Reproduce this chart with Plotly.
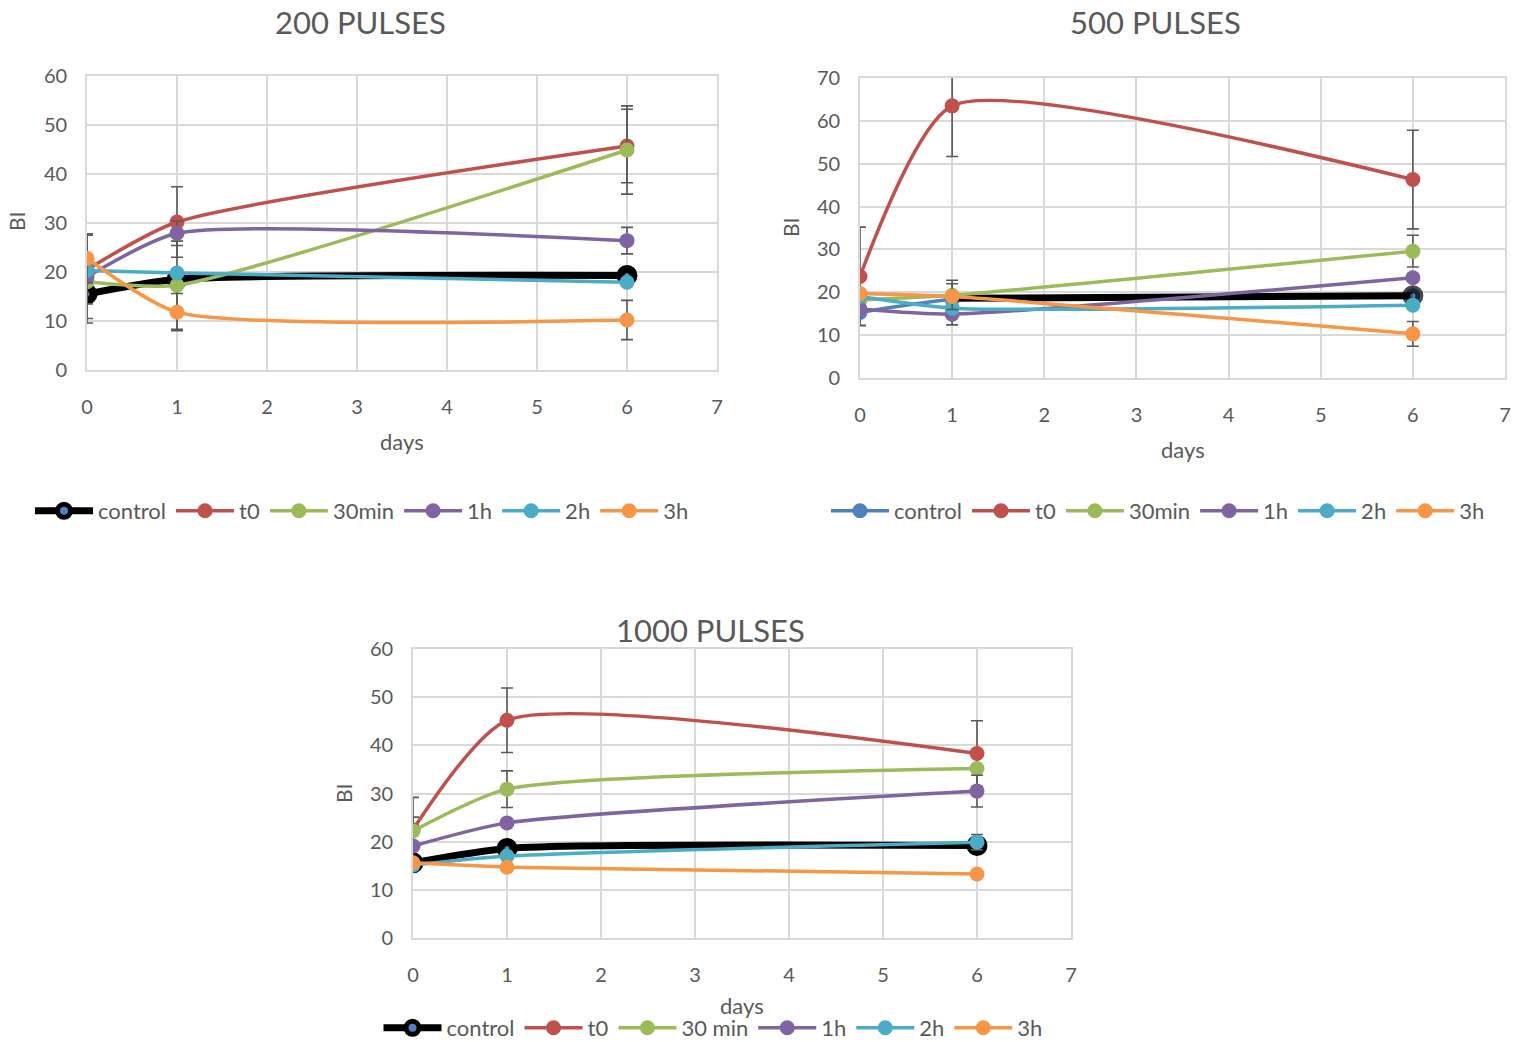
import plotly.graph_objects as go

days = [0, 1, 6]
series_names = ["control", "t0", "30min", "1h", "2h", "3h"]
series_names_1000 = ["control", "t0", "30 min", "1h", "2h", "3h"]
colors = ["#000000", "#C0504D", "#9BBB59", "#8064A2", "#4BACC6", "#F79646"]
control_blue = "#4F81BD"

# 200 pulses
p200_control = [15.5, 18.5, 19.3]
p200_t0 = [20.5, 30.2, 45.7]
p200_30min = [18.0, 17.3, 44.9]
p200_1h = [19.0, 27.9, 26.4]
p200_2h = [20.3, 19.8, 17.9]
p200_3h = [22.8, 11.8, 10.2]
p200_control_err = [5.9, 0, 0]
p200_t0_err = [7.0, 7.2, 7.5]
p200_30min_err = [0, 9.0, 9.0]
p200_1h_err = [8.5, 2.5, 2.7]
p200_2h_err = [0, 0, 0]
p200_3h_err = [5.0, 3.8, 4.0]

# 500 pulses
p500_control = [15.3, 18.3, 19.2]
p500_t0 = [23.7, 63.5, 46.3]
p500_30min = [18.2, 19.3, 29.6]
p500_1h = [16.1, 14.9, 23.4]
p500_2h = [19.0, 16.3, 17.0]
p500_3h = [19.7, 19.0, 10.3]
p500_overlay = [18.6, 19.2]
p500_control_err = [3.0, 0, 0]
p500_t0_err = [11.5, 11.8, 11.5]
p500_30min_err = [0, 3.5, 3.7]
p500_1h_err = [0, 2.5, 0]
p500_2h_err = [0, 0, 0]
p500_3h_err = [0, 3.0, 2.9]

# 1000 pulses
p1000_control = [15.6, 18.6, 19.2]
p1000_t0 = [22.5, 45.2, 38.3]
p1000_30min = [22.2, 30.9, 35.2]
p1000_1h = [19.1, 23.9, 30.5]
p1000_2h = [15.1, 17.0, 19.9]
p1000_3h = [15.6, 14.7, 13.3]
p1000_control_err = [0, 0, 0]
p1000_t0_err = [2.6, 6.7, 6.8]
p1000_30min_err = [7.0, 3.8, 0]
p1000_1h_err = [0, 0, 3.3]
p1000_2h_err = [0, 0, 1.6]
p1000_3h_err = [0, 0, 0]

W, H = 1525, 1042
FONT = "Lato"
GRAY = "#595959"
GRID = "#D9D9D9"
SMOOTH = 0.6

def px_x(v):
    return v / W

def px_y(v):
    return 1 - v / H

fig = go.Figure()

charts = [
    dict(ax="", leg="legend", names=series_names,
         vals=[p200_control, p200_t0, p200_30min, p200_1h, p200_2h, p200_3h],
         errs=[p200_control_err, p200_t0_err, p200_30min_err, p200_1h_err, p200_2h_err, p200_3h_err],
         black=True),
    dict(ax="2", leg="legend2", names=series_names,
         vals=[p500_control, p500_t0, p500_30min, p500_1h, p500_2h, p500_3h],
         errs=[p500_control_err, p500_t0_err, p500_30min_err, p500_1h_err, p500_2h_err, p500_3h_err],
         black=False),
    dict(ax="3", leg="legend3", names=series_names_1000,
         vals=[p1000_control, p1000_t0, p1000_30min, p1000_1h, p1000_2h, p1000_3h],
         errs=[p1000_control_err, p1000_t0_err, p1000_30min_err, p1000_1h_err, p1000_2h_err, p1000_3h_err],
         black=True),
]

for ci, ch in enumerate(charts):
    xa = "x" + ch["ax"]
    ya = "y" + ch["ax"]
    for i, (name, v, e) in enumerate(zip(ch["names"], ch["vals"], ch["errs"])):
        if i == 0:
            if ch["black"]:
                line = dict(color="#000000", width=7, shape="spline", smoothing=SMOOTH)
                marker = dict(size=13, color=control_blue, line=dict(color="#000000", width=8))
            else:
                line = dict(color=control_blue, width=3.5, shape="spline", smoothing=SMOOTH)
                marker = dict(size=15, color=control_blue)
        else:
            line = dict(color=colors[i], width=3.5, shape="spline", smoothing=SMOOTH)
            marker = dict(size=15, color=colors[i])
        fig.add_trace(go.Scatter(
            x=days, y=v, name=name, mode="lines+markers",
            line=line, marker=marker, xaxis=xa, yaxis=ya, legend=ch["leg"],
            error_y=dict(type="data", array=e, visible=True, color=GRAY, thickness=1.6, width=6),
        ))
        if ci == 1 and i == 0:
            fig.add_trace(go.Scatter(
                x=days[1:], y=p500_overlay, mode="lines+markers", showlegend=False,
                line=dict(color="#000000", width=7, shape="spline", smoothing=SMOOTH),
                marker=dict(size=[0, 13], color=control_blue, line=dict(color="#000000", width=[0, 8])),
                xaxis=xa, yaxis=ya, legend=ch["leg"],
            ))

common_x = dict(range=[0, 7], dtick=1, tick0=0, showgrid=True, gridcolor=GRID, gridwidth=1.8,
                showline=True, linecolor=GRID, linewidth=1.8, mirror=True, zeroline=False,
                tickfont=dict(family=FONT, size=20, color=GRAY), ticks="", ticklabelstandoff=18,
                fixedrange=True, automargin=False)
common_y = dict(dtick=10, tick0=0, showgrid=True, gridcolor=GRID, gridwidth=1.8,
                showline=True, linecolor=GRID, linewidth=1.8, mirror=True, zeroline=False,
                tickfont=dict(family=FONT, size=20, color=GRAY), ticks="", ticklabelstandoff=14,
                fixedrange=True, automargin=False)

leg_common = dict(orientation="h", yanchor="middle", xanchor="center",
                  font=dict(family=FONT, size=22, color=GRAY), bgcolor="rgba(0,0,0,0)",
                  itemwidth=58, itemsizing="trace")

fig.update_layout(
    width=W, height=H, margin=dict(l=0, r=0, t=0, b=0, autoexpand=False),
    plot_bgcolor="white", paper_bgcolor="white",
    font=dict(family=FONT, color=GRAY),
    xaxis=dict(common_x, domain=[px_x(87), px_x(717)], anchor="y"),
    yaxis=dict(common_y, domain=[px_y(370), px_y(76)], range=[0, 60], anchor="x"),
    xaxis2=dict(common_x, domain=[px_x(860), px_x(1505)], anchor="y2"),
    yaxis2=dict(common_y, domain=[px_y(378), px_y(78)], range=[0, 70], anchor="x2"),
    xaxis3=dict(common_x, domain=[px_x(413), px_x(1071)], anchor="y3"),
    yaxis3=dict(common_y, domain=[px_y(938), px_y(649)], range=[0, 60], anchor="x3"),
    legend=dict(leg_common, x=px_x(362), y=px_y(511)),
    legend2=dict(leg_common, x=px_x(1158), y=px_y(511)),
    legend3=dict(leg_common, x=px_x(713), y=px_y(1028)),
    showlegend=True,
)

def ann(text, x, y, size, angle=0):
    fig.add_annotation(text=text, x=px_x(x), y=px_y(y), xref="paper", yref="paper",
                       showarrow=False, xanchor="center", yanchor="middle", textangle=angle,
                       font=dict(family=FONT, size=size, color=GRAY))

ann("200 PULSES", 360, 22, 31)
ann("500 PULSES", 1155, 22, 31)
ann("1000 PULSES", 710, 630, 31)
ann("days", 402, 441, 22)
ann("days", 1183, 449, 22)
ann("days", 742, 1005, 22)
ann("BI", 16, 222, 21, -90)
ann("BI", 791, 228, 21, -90)
ann("BI", 343, 794, 21, -90)

fig.write_html("out.html")
